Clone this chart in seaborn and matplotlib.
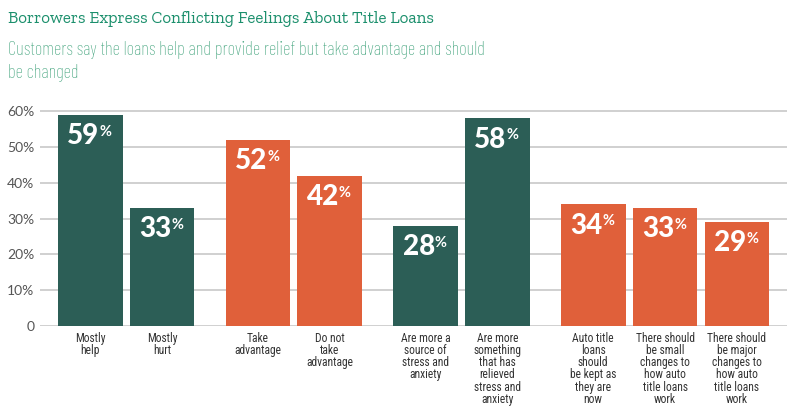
import matplotlib
matplotlib.use("Agg")
import matplotlib.pyplot as plt
import seaborn as sns
import pandas as pd

categories = [
    "Mostly\nhelp", "Mostly\nhurt",
    "Take\nadvantage", "Do not\ntake\nadvantage",
    "Are more a\nsource of\nstress and\nanxiety",
    "Are more\nsomething\nthat has\nrelieved\nstress and\nanxiety",
    "Auto title\nloans\nshould\nbe kept as\nthey are\nnow",
    "There should\nbe small\nchanges to\nhow auto\ntitle loans\nwork",
    "There should\nbe major\nchanges to\nhow auto\ntitle loans\nwork",
]
values = [59, 33, 52, 42, 28, 58, 34, 33, 29]
groups = [0, 0, 1, 1, 2, 2, 3, 3, 3]
group_colors = ["#2c5e56", "#e0603a", "#2c5e56", "#e0603a"]
ytick_values = [0, 10, 20, 30, 40, 50, 60]
ytick_labels = ["0", "10%", "20%", "30%", "40%", "50%", "60%"]

title = "Borrowers Express Conflicting Feelings About Title Loans"
subtitle_1 = "Customers say the loans help and provide relief but take advantage and should"
subtitle_2 = "be changed"

sns.set_theme(style="white")
plt.rcParams["font.family"] = ["Lato", "DejaVu Sans"]

cond = ["Roboto Condensed", "Liberation Sans Narrow", "Lato", "DejaVu Sans"]

group_gap = 1 / 3
positions = [i + group_gap * g for i, g in enumerate(groups)]
df = pd.DataFrame({
    "pos": positions,
    "value": values,
    "group": [str(g) for g in groups],
    "cat": categories,
})
palette = {str(g): group_colors[g] for g in range(len(group_colors))}

fig = plt.figure(figsize=(8.0, 4.08), dpi=100)
ax = fig.add_axes([0.05, 0.201, 0.934, 0.532])

sns.barplot(data=df, x="pos", y="value", hue="group", palette=palette,
            native_scale=True, dodge=False, width=0.9, legend=False,
            saturation=1, ax=ax, edgecolor="none", zorder=3)

ax.set_ylim(0, 60.6)
ax.set_xlim(-0.70, positions[-1] + 0.70)
ax.set_yticks(ytick_values)
ax.set_yticklabels(ytick_labels, fontsize=10, color="#555555")
ax.set_xticks(positions)
ax.set_xticklabels(categories, fontsize=8.3, color="#333333", linespacing=0.93,
                   va="top", family=cond)
ax.tick_params(axis="x", length=0, pad=4)
ax.tick_params(axis="y", length=0, pad=4)
ax.yaxis.grid(True, color="#c8c8c8", linewidth=1.2, zorder=0)
ax.set_axisbelow(True)
for s in ax.spines.values():
    s.set_visible(False)
ax.set_xlabel("")
ax.set_ylabel("")

for p, v in zip(positions, values):
    t = ax.annotate(str(v), xy=(p, v), xytext=(-5, -6), textcoords="offset points",
                    ha="center", va="top", color="white", fontsize=20,
                    fontweight="black", zorder=5)
    ax.annotate("%", xy=(1.0, 0.93), xycoords=t, xytext=(0, 0), textcoords="offset points",
                ha="left", va="top", color="white", fontsize=10.5, fontweight="bold", zorder=5)

title_t = fig.text(8 / 800, 1 - 19 / 408, title, fontsize=17, color="#1b8f6c",
                   family=["Zilla Slab", "Liberation Serif", "DejaVu Serif"],
                   va="center", ha="left")
sub_family = ["Barlow Condensed", "Roboto Condensed", "Liberation Sans Narrow", "Lato", "DejaVu Sans"]
sub1 = fig.text(8 / 800, 1 - 50 / 408, subtitle_1, fontsize=15, color="#45a57f",
                family=sub_family, fontweight="light", va="center", ha="left")
sub2 = fig.text(8 / 800, 1 - 73 / 408, subtitle_2, fontsize=15, color="#45a57f",
                family=sub_family, fontweight="light", va="center", ha="left")

# fit text widths to the reference layout
fig.canvas.draw()
r = fig.canvas.get_renderer()
def fit(t, target_px):
    w = t.get_window_extent(r).width
    t.set_fontsize(t.get_fontsize() * target_px / w)
fit(title_t, 425)
fit(sub1, 477)
sub2.set_fontsize(sub1.get_fontsize())

fig.savefig("out.png", dpi=100)
